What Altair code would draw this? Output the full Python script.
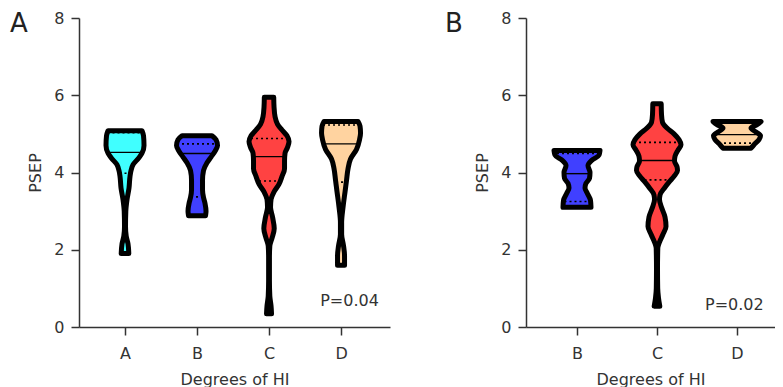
import altair as alt
import pandas as pd

FONT = "DejaVu Sans"
INK = "#333333"

# ---------------- data ----------------
# Panel A : groups A-D
A_groups = ["A", "B", "C", "D"]
A_colors = ["#40FFFF", "#4040FF", "#FF4242", "#FFD3A0"]
A_levels = {
    "A": [5.08, 4.95, 4.7, 4.5, 4.37, 4.2, 4.05, 3.9, 3.6, 3.3, 3.0, 2.6, 2.35, 2.15, 1.9],
    "B": [4.95, 4.85, 4.7, 4.55, 4.4, 4.25, 4.05, 3.8, 3.55, 3.35, 3.2, 3.0, 2.88],
    "C": [5.95, 5.7, 5.45, 5.25, 5.1, 4.95, 4.8, 4.65, 4.5, 4.3, 4.1, 3.9, 3.7, 3.5, 3.3,
          3.1, 2.85, 2.55, 2.3, 2.1, 1.8, 1.2, 0.8, 0.55, 0.34],
    "D": [5.32, 5.2, 5.02, 4.85, 4.6, 4.35, 4.1, 3.8, 3.5, 3.1, 2.7, 2.4, 2.1, 1.85, 1.6],
}
A_halfwidth = {
    "A": [17, 18.5, 19, 17, 13.5, 8, 6, 5, 4, 2, 0.8, 0.5, 1.2, 3, 3.8],
    "B": [15, 19, 20.5, 18, 14, 10, 6.5, 5.5, 5.5, 6.5, 8, 9, 8.5],
    "C": [4.7, 5, 6, 8.5, 13, 18, 20, 18.5, 16, 15.5, 15.5, 13, 10, 5, 2,
          1.5, 3.5, 5.2, 3, 0.8, 0.4, 0.4, 0.8, 2, 2.5],
    "D": [17, 19, 19.5, 18.5, 15.5, 9.5, 7, 5.5, 4, 2, 0.6, 0.6, 2.5, 3.5, 3.5],
}
A_median = [4.52, 4.49, 4.41, 4.74]
A_median_hw = [17, 16, 16.5, 18]
A_q3 = [5.03, 4.74, 4.88, 5.23]
A_q3_hw = [17.5, 20, 18, 18]
A_q1 = [3.98, 3.37, 3.78, 3.75]
A_q1_hw = [5.5, 6, 10, 5]
A_p_text = "P=0.04"

# Panel B : groups B-D
B_groups = ["B", "C", "D"]
B_colors = ["#4040FF", "#FF4242", "#FFD3A0"]
B_levels = {
    "B": [4.57, 4.45, 4.32, 4.18, 4.0, 3.85, 3.72, 3.6, 3.45, 3.28, 3.1],
    "C": [5.78, 5.5, 5.3, 5.15, 5.0, 4.85, 4.72, 4.58, 4.42, 4.3, 4.15, 4.05, 3.9, 3.75,
          3.6, 3.42, 3.3, 3.1, 2.85, 2.6, 2.4, 2.2, 2.05, 1.5, 1.0, 0.75, 0.54],
    "D": [5.32, 5.24, 5.15, 5.05, 4.95, 4.85, 4.72, 4.63],
}
B_halfwidth = {
    "B": [23, 22, 15, 11, 13, 12.5, 9, 8, 10.5, 13.5, 14],
    "C": [4.2, 4.5, 5.5, 10, 17, 22, 24, 21, 18, 17.5, 20, 20.5, 17, 12,
          7.5, 3, 2.5, 4.5, 8, 9, 6, 2.5, 0.8, 0.5, 0.7, 1.5, 2.8],
    "D": [24, 20, 14, 19, 23.5, 22, 17, 14],
}
B_median = [3.97, 4.31, 4.98]
B_median_hw = [11.5, 17.5, 23]
B_q3 = [4.49, 4.78]
B_q3_hw = [20, 23]
B_q1 = [3.25, 3.81, 4.76]
B_q1_hw = [12.5, 12.5, 18]
B_p_text = "P=0.02"

Y_TICKS = [0, 2, 4, 6, 8]


def panel(letter, groups, colors, levels, halfw, med, med_hw, q3, q3_hw, q1, q1_hw,
          p_text, p_pos, spacing_px, xdom, width, height, letter_dx):
    xs = alt.Scale(domain=xdom, nice=False, zero=False)
    ys = alt.Scale(domain=[0, 8], nice=False, zero=False)
    label_expr = "[" + ",".join("'%s'" % g for g in groups) + "][datum.value - 1]"
    xaxis = alt.Axis(values=list(range(1, len(groups) + 1)), labelExpr=label_expr,
                     title="Degrees of HI", grid=False, labelPadding=10, titlePadding=10)
    yaxis = alt.Axis(values=Y_TICKS, title="PSEP", grid=False, format="d")

    def X(f):
        return alt.X(f, type="quantitative", scale=xs, axis=xaxis, stack=None)

    def Y(f):
        return alt.Y(f, type="quantitative", scale=ys, axis=yaxis)

    layers = []
    for i, g in enumerate(groups):
        c = i + 1
        rows = [{"v": v, "lo": c - w / spacing_px, "hi": c + w / spacing_px}
                for v, w in zip(levels[g], halfw[g])]
        vdf = pd.DataFrame(rows)
        layers.append(alt.Chart(vdf).mark_area(
            orient="horizontal", interpolate="monotone", stroke="black",
            strokeWidth=5, strokeJoin="round", fill=colors[i], opacity=1
        ).encode(y=Y("v"), x=X("lo"), x2="hi"))

    def rule_rows(vals, hws):
        return [{"v": v, "lo": i + 1 - w / spacing_px, "hi": i + 1 + w / spacing_px}
                for i, (v, w) in enumerate(zip(vals, hws))]

    med_df = pd.DataFrame(rule_rows(med, med_hw))
    q_df = pd.DataFrame(rule_rows(q3, q3_hw) + rule_rows(q1, q1_hw))

    layers.append(alt.Chart(med_df).mark_rule(color="black", strokeWidth=1.4).encode(
        y=Y("v"), x=X("lo"), x2="hi"))
    layers.append(alt.Chart(q_df).mark_rule(color="black", strokeWidth=1.6,
                                            strokeDash=[2, 3]).encode(
        y=Y("v"), x=X("lo"), x2="hi"))
    layers.append(alt.Chart(pd.DataFrame({"t": [p_text], "x": [p_pos[0]], "y": [p_pos[1]]})).mark_text(
        align="left", baseline="alphabetic", font=FONT, fontSize=16, color=INK
    ).encode(x=X("x"), y=Y("y"), text="t:N"))
    layers.append(alt.Chart(pd.DataFrame({"t": [letter]})).mark_text(
        align="left", baseline="alphabetic", font=FONT, fontSize=26, color="#222222"
    ).encode(x=alt.value(letter_dx), y=alt.value(14), text="t:N"))
    return alt.layer(*layers).properties(width=width, height=height)


pA = panel("A", A_groups, A_colors, A_levels, A_halfwidth, A_median, A_median_hw,
           A_q3, A_q3_hw, A_q1, A_q1_hw, A_p_text, (3.71, 0.55), 72.0,
           [0.361, 4.68], 311, 309, -69)
pB = panel("B", B_groups, B_colors, B_levels, B_halfwidth, B_median, B_median_hw,
           B_q3, B_q3_hw, B_q1, B_q1_hw, B_p_text, (2.60, 0.43), 80.0,
           [0.3625, 3.475], 249, 309, -81)

chart = alt.hconcat(pA, pB, spacing=55).properties(
    padding={"left": 2, "top": 2, "right": 0, "bottom": 0}
).configure_view(stroke=None).configure_axis(
    domainColor=INK, domainWidth=1.5, tickColor=INK, tickWidth=1.5, tickSize=8,
    labelFont=FONT, labelFontSize=16, labelColor=INK, labelPadding=7,
    titleFont=FONT, titleFontSize=16, titleColor=INK, titleFontWeight="normal",
    titlePadding=10,
)

chart.save("out.html", embed_options={"renderer": "svg", "actions": False})
